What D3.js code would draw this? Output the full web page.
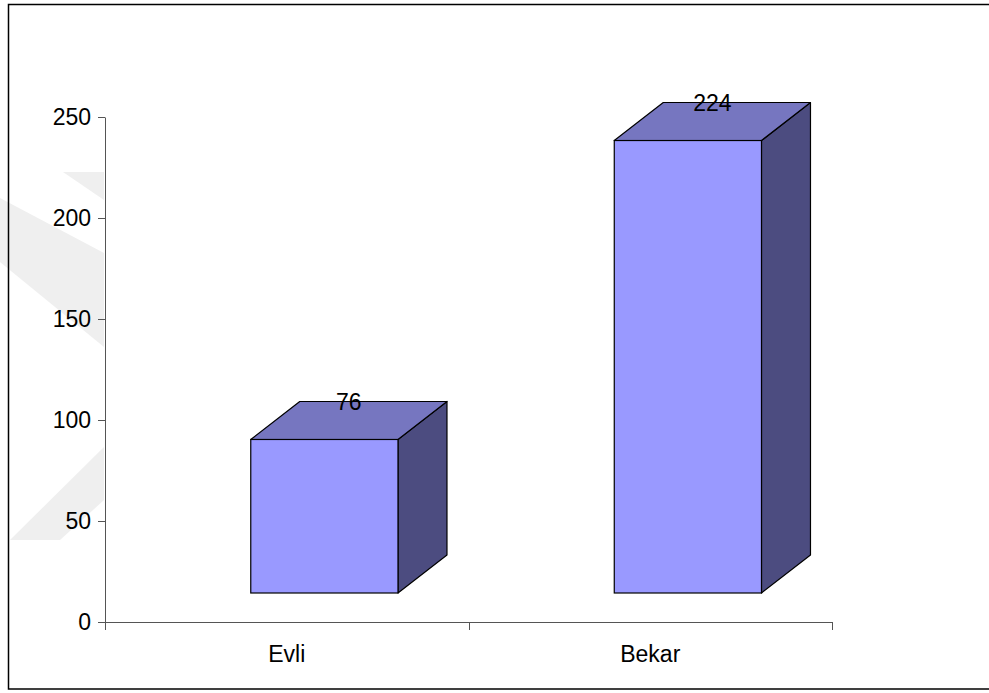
<!DOCTYPE html>
<html>
<head>
<meta charset="utf-8">
<script src="https://cdn.jsdelivr.net/npm/d3@7"></script>
<style>
  html, body { margin: 0; padding: 0; background: #fff; }
  svg { display: block; font-family: "Liberation Sans", Arial, sans-serif; }
</style>
</head>
<body>
<svg id="chart" width="989" height="693"></svg>
<script>
// Marital status counts
const categories = ["Evli", "Bekar"];
const counts = [76, 224];
const yTicks = [0, 50, 100, 150, 200, 250];

const svg = d3.select("#chart");
const W = 989, H = 693;

// Plot area
const plotLeft = 105, plotRight = 832, plotTop = 117, plotBottom = 622;

const x = d3.scaleBand().domain(categories).range([plotLeft, plotRight]).padding(0);
const y = d3.scaleLinear().domain([0, 250]).range([plotBottom, plotTop]);

// 3D projection of the bars
const depthX = 49, depthY = 38, lift = 29;
const faceW = x.bandwidth() * 0.405;
const faceOff = -x.bandwidth() * 0.099;

// Faint background watermark
const wm = svg.append("g").attr("fill", "#efefef");
[
  [[63, 172], [104, 172], [104, 200]],
  [[0, 198], [104, 253], [104, 347], [0, 262]],
  [[10, 540], [60, 540], [104, 500], [104, 447]]
].forEach(p => wm.append("polygon").attr("points", p.map(d => d.join(",")).join(" ")));

// Outer frame
svg.append("rect")
  .attr("x", 8.5).attr("y", 4.5)
  .attr("width", W).attr("height", 684.5)
  .attr("fill", "none").attr("stroke", "#000").attr("stroke-width", 1.5);

// Y axis
const yAxis = svg.append("g")
  .attr("transform", `translate(${plotLeft},0)`)
  .call(d3.axisLeft(y).tickValues(yTicks).tickSize(7).tickSizeOuter(0).tickPadding(7));
yAxis.select(".domain").attr("stroke", "#555");
yAxis.selectAll(".tick line").attr("stroke", "#555");
yAxis.selectAll(".tick text")
  .attr("font-size", 23).attr("fill", "#000")
  .attr("font-family", "'Liberation Sans', Arial, sans-serif");

// X axis line, boundary ticks and labels
const xg = svg.append("g");
xg.append("line")
  .attr("x1", plotLeft).attr("x2", plotRight)
  .attr("y1", y(0) + 0.5).attr("y2", y(0) + 0.5)
  .attr("stroke", "#555");
const bounds = categories.map(c => x(c)).concat([x(categories[categories.length - 1]) + x.bandwidth()]);
xg.selectAll("line.tick").data(bounds).join("line")
  .attr("class", "tick")
  .attr("x1", d => Math.round(d) + 0.5).attr("x2", d => Math.round(d) + 0.5)
  .attr("y1", y(0)).attr("y2", y(0) + 8)
  .attr("stroke", "#555");
xg.selectAll("text").data(categories).join("text")
  .attr("x", d => x(d) + x.bandwidth() / 2)
  .attr("y", y(0) + 40)
  .attr("text-anchor", "middle")
  .attr("font-size", 23)
  .text(d => d);

// Bars
const data = categories.map((c, i) => ({ c, v: counts[i] }));
const bars = svg.append("g").selectAll("g").data(data).join("g");

function pts(a) { return a.map(p => p.join(",")).join(" "); }

bars.each(function(d) {
  const g = d3.select(this);
  const x0 = x(d.c) + x.bandwidth() / 2 + faceOff;
  const x1 = x0 + faceW;
  const y0 = y(0) - lift;
  const y1 = y(d.v) - lift;
  // right side
  g.append("polygon")
    .attr("points", pts([[x1, y1], [x1 + depthX, y1 - depthY], [x1 + depthX, y0 - depthY], [x1, y0]]))
    .attr("fill", "#4c4c80").attr("stroke", "#000").attr("stroke-width", 1.2)
    .attr("stroke-linejoin", "round");
  // top
  g.append("polygon")
    .attr("points", pts([[x0, y1], [x0 + depthX, y1 - depthY], [x1 + depthX, y1 - depthY], [x1, y1]]))
    .attr("fill", "#7676c0").attr("stroke", "#000").attr("stroke-width", 1.2)
    .attr("stroke-linejoin", "round");
  // front
  g.append("rect")
    .attr("x", x0).attr("y", y1)
    .attr("width", faceW).attr("height", y0 - y1)
    .attr("fill", "#9999ff").attr("stroke", "#000").attr("stroke-width", 1.2);
  // value label
  g.append("text")
    .attr("x", x0 + faceW / 2 + depthX / 2)
    .attr("y", y1 - depthY)
    .attr("dy", "0.36em")
    .attr("text-anchor", "middle")
    .attr("font-size", 23)
    .text(d.v);
});
</script>
</body>
</html>
